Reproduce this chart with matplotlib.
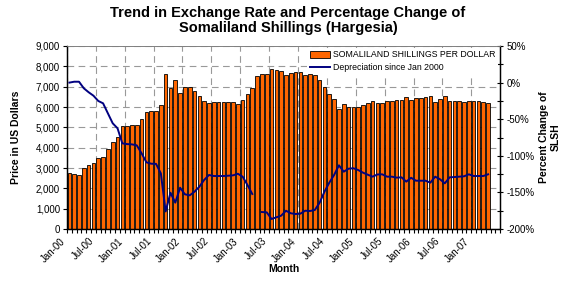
import matplotlib
matplotlib.use("Agg")
import matplotlib.pyplot as plt
import numpy as np
from matplotlib.patches import Patch
from matplotlib.lines import Line2D
from matplotlib.ticker import FuncFormatter, MultipleLocator

plt.rcParams["font.family"] = ["Liberation Sans", "DejaVu Sans"]

# monthly data, Jan-00 onwards
rate = [2740, 2700, 2680, 3000, 3130, 3250, 3490, 3540, 3920, 4300,
        4510, 5050, 5050, 5100, 5100, 5400, 5750, 5800, 5800, 6100,
        7610, 6920, 7310, 6710, 7000, 7000, 6790, 6540, 6300, 6200,
        6250, 6250, 6250, 6250, 6250, 6150, 6330, 6640, 6950, 7525,
        7640, 7640, 7870, 7800, 7755, 7575, 7655, 7705, 7705, 7590,
        7610, 7590, 7330, 7000, 6625, 6380, 5890, 6135, 6020, 5985,
        6000, 6115, 6215, 6280, 6200, 6200, 6300, 6300, 6345, 6345,
        6480, 6330, 6430, 6430, 6480, 6540, 6265, 6380, 6540, 6310,
        6310, 6300, 6230, 6280, 6280, 6280, 6250, 6215]

depreciation = [0, 1.2, 1.2, -7.8, -13.2, -17.9, -25.1, -28.3, -42, -55.6,
                -62.4, -83, -84, -84.4, -85.7, -96.6, -108.9, -110.8, -111, -124,
                -176, -150.4, -164, -143.6, -152.6, -154, -149, -142.2, -133, -126.2,
                -127.6, -127.6, -127.6, -127.2, -126.7, -124.5, -128.5, -139.9, -152.2, np.nan,
                -176.8, -177.2, -186.3, -184, -181.8, -175, -178.5, -179.5, -179, -175,
                -175.4, -174, -164, -149, -136.7, -126.2, -113, -121.7, -117.6, -117,
                -119.4, -123, -125.8, -128.5, -125.5, -125.3, -128.5, -128.5, -129.8, -129.4,
                -135.3, -130, -134, -134, -134, -136.7, -128.5, -132, -137.6, -129.4,
                -129, -128.5, -128, -125.3, -127.6, -127.6, -127.6, -125.3]

tick_labels = ["Jan-00", "Jul-00", "Jan-01", "Jul-01", "Jan-02", "Jul-02", "Jan-03",
               "Jul-03", "Jan-04", "Jul-04", "Jan-05", "Jul-05", "Jan-06", "Jul-06",
               "Jan-07"]
n_slots = 90

x = np.arange(len(rate))

fig = plt.figure(figsize=(5.76, 2.9), dpi=100)
ax = fig.add_axes([0.1163, 0.2103, 0.752, 0.6311])
ax2 = ax.twinx()

ax.set_axisbelow(True)
ax.bar(x, rate, width=0.76, color="#FF6600", edgecolor="black", linewidth=0.6, zorder=2)
ax.set_xlim(-0.5, n_slots - 0.5)
ax.set_ylim(0, 9000)
ax.yaxis.set_major_locator(MultipleLocator(1000))
ax.yaxis.set_major_formatter(FuncFormatter(lambda v, p: f"{int(v):,}"))

major = np.arange(len(tick_labels)) * 6 - 0.5
ax.set_xticks(major)
ax.set_xticklabels(tick_labels, rotation=45, ha="right", fontsize=7)
ax.set_xticks(np.arange(n_slots + 1) - 0.5, minor=True)
ax.tick_params(axis="x", which="major", length=3, width=0.8, pad=2)
ax.tick_params(axis="x", which="minor", length=3, width=0.8)
ax.tick_params(axis="y", labelsize=7, length=3, width=0.8, pad=2)
ax.grid(True, which="major", linestyle=(0, (6, 4)), color="#999999", linewidth=0.8)

ax2.plot(x, depreciation, color="#000080", linewidth=1.4, zorder=3)
ax2.set_ylim(-200, 50)
ax2.yaxis.set_major_locator(MultipleLocator(50))
ax2.yaxis.set_minor_locator(MultipleLocator(25))
ax2.yaxis.set_major_formatter(FuncFormatter(lambda v, p: f"{int(v)}%"))
ax2.tick_params(axis="y", which="both", direction="inout", length=5, width=0.8, labelsize=7, pad=2)

for a in (ax, ax2):
    a.spines["top"].set_color("#808080")
    a.spines["top"].set_linewidth(0.6)
    for s in ("left", "right", "bottom"):
        a.spines[s].set_linewidth(0.9)

ax.set_ylabel("Price in US Dollars", fontsize=7.5, fontweight="bold", labelpad=11)
ax2.set_ylabel("Percent Change of\nSLSH", fontsize=7.5, fontweight="bold", labelpad=3)
ax.set_xlabel("Month", fontsize=7.5, fontweight="bold", labelpad=0)
fig.suptitle("Trend in Exchange Rate and Percentage Change of\nSomaliland Shillings (Hargesia)",
             x=0.5, y=0.98, fontsize=10.5, fontweight="bold", linespacing=1.1)

handles = [Patch(facecolor="#FF6600", edgecolor="black", linewidth=0.6),
           Line2D([], [], color="#000080", linewidth=1.4)]
leg = ax2.legend(handles, ["SOMALILAND SHILLINGS PER DOLLAR", "Depreciation since Jan 2000"],
                 loc="upper right", bbox_to_anchor=(1.0, 1.0), fontsize=6.3, frameon=True,
                 fancybox=False, borderaxespad=0.2, handlelength=2.3, handleheight=0.9,
                 labelspacing=0.4, borderpad=0.3, handletextpad=0.4)
leg.get_frame().set_edgecolor("none")
leg.get_frame().set_facecolor("white")
leg.get_frame().set_alpha(1)

fig.savefig("out.png", dpi=100)
